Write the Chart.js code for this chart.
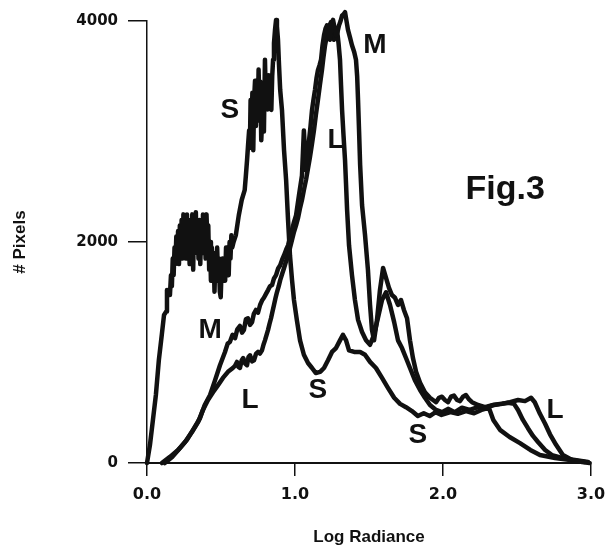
<!DOCTYPE html>
<html><head><meta charset="utf-8">
<script src="https://cdn.jsdelivr.net/npm/chart.js@4/dist/chart.umd.min.js"></script>
<style>html,body{margin:0;padding:0;background:#fff}</style>
</head><body>
<canvas id="c" width="613" height="551"></canvas>
<script>
// Log Radiance (x) , # Pixels (y)
const seriesS = [[0,0],[0.02,163],[0.04,390],[0.06,615],[0.08,930],[0.10,1160],[0.115,1340],[0.13,1370],[0.135,1565],[0.148,1520],
[0.155,1520],[0.162,1700],[0.168,1600],[0.174,1850],[0.18,1700],[0.186,1950],[0.192,1800],[0.198,2050],[0.204,1850],[0.21,2100],
[0.216,1800],[0.222,2150],[0.228,1900],[0.234,2200],[0.24,1850],[0.246,2250],[0.252,1950],[0.258,2200],[0.264,1850],[0.27,2250],
[0.276,1900],[0.282,2200],[0.288,1800],[0.294,2150],[0.30,1850],[0.306,2250],[0.312,1750],[0.318,2200],[0.324,1900],[0.33,2270],
[0.336,1950],[0.342,2150],[0.348,1850],[0.354,2200],[0.36,1800],[0.366,2100],[0.372,1900],[0.378,2250],[0.384,1950],[0.39,2200],
[0.396,1850],[0.402,2250],[0.408,2000],[0.414,2150],[0.42,1750],[0.426,2000],[0.432,1650],[0.438,1950],[0.444,1700],[0.45,1900],
[0.456,1550],[0.462,1850],[0.468,1650],[0.474,1950],[0.48,1700],[0.486,1850],[0.492,1550],[0.498,1500],[0.504,1750],[0.51,1850],
[0.516,1650],[0.522,1800],[0.528,1650],[0.534,1950],[0.54,1800],[0.546,1950],[0.552,1700],[0.558,2000],[0.564,1850],[0.57,2060],
[0.576,1950],[0.585,2000],[0.60,2060],[0.62,2240],[0.64,2380],[0.66,2470],[0.668,2600],[0.676,2740],[0.684,2900],[0.69,3010],
[0.695,2850],[0.70,3285],[0.706,3000],[0.712,3350],[0.718,2830],[0.724,3300],[0.73,3460],[0.736,3050],[0.742,3400],[0.748,3100],
[0.754,3560],[0.76,3200],[0.766,3450],[0.772,2920],[0.778,3100],[0.784,3285],[0.79,3000],[0.797,3650],[0.803,3300],[0.81,3450],
[0.816,3200],[0.822,3510],[0.828,3300],[0.834,3400],[0.84,3195],[0.846,3500],[0.852,3650],[0.858,3800],[0.865,3920],[0.872,4010],
[0.878,3950],[0.885,3830],[0.892,3600],[0.90,3375],[0.912,3195],[0.926,2830],[0.94,2560],[0.953,2200],[0.966,1880],[0.98,1655],
[0.993,1475],[1.013,1290],[1.034,1110],[1.06,980],[1.088,905],[1.115,860],[1.14,815],[1.17,825],[1.196,860],[1.223,930],
[1.25,1005],[1.277,1040],[1.304,1110],[1.324,1160],[1.345,1110],[1.365,1020],[1.40,1005],[1.44,1005],[1.473,980],[1.507,915],
[1.547,860],[1.588,770],[1.628,680],[1.67,590],[1.71,535],[1.75,505],[1.79,470],[1.83,425],[1.87,450],[1.91,425],
[1.95,460],[1.99,435],[2.05,460],[2.10,445],[2.155,470],[2.21,450],[2.26,480],[2.31,500],[2.34,390],[2.385,300],
[2.45,235],[2.52,180],[2.59,118],[2.655,72],[2.757,45],[2.86,27],[2.96,9]];

const seriesM = [[0.12,0],[0.17,55],[0.223,135],[0.27,210],[0.318,315],[0.358,405],[0.39,525],[0.426,615],[0.46,750],[0.493,885],
[0.527,1005],[0.545,1080],[0.56,1095],[0.578,1160],[0.595,1130],[0.61,1210],[0.628,1240],[0.642,1180],[0.655,1205],[0.668,1300],
[0.682,1310],[0.696,1250],[0.71,1275],[0.722,1350],[0.736,1385],[0.75,1360],[0.764,1430],[0.777,1470],[0.79,1495],[0.804,1530],
[0.818,1565],[0.831,1600],[0.845,1610],[0.858,1670],[0.872,1700],[0.886,1760],[0.90,1790],[0.913,1840],[0.926,1880],[0.94,1930],
[0.953,1970],[0.966,2040],[0.98,2110],[0.993,2180],[1.007,2240],[1.027,2425],[1.047,2600],[1.06,3010],[1.074,2650],[1.085,2800],
[1.095,2920],[1.105,3050],[1.115,3195],[1.125,3290],[1.135,3375],[1.145,3480],[1.155,3555],[1.166,3600],[1.176,3650],[1.186,3780],
[1.196,3870],[1.206,3930],[1.216,3960],[1.226,3880],[1.236,3830],[1.247,3950],[1.257,4010],[1.267,3940],[1.277,3870],[1.287,3900],
[1.297,3960],[1.308,4000],[1.318,4050],[1.328,4060],[1.338,4080],[1.348,4000],[1.358,3920],[1.372,3850],[1.385,3780],[1.40,3720],
[1.412,3650],[1.42,3500],[1.426,3285],[1.433,3000],[1.44,2700],[1.453,2335],[1.473,2065],[1.493,1745],[1.507,1430],[1.52,1205],
[1.534,1110],[1.554,1295],[1.574,1565],[1.595,1765],[1.615,1675],[1.635,1585],[1.655,1520],[1.676,1495],[1.696,1430],[1.716,1475],
[1.736,1385],[1.757,1310],[1.777,1110],[1.797,950],[1.818,825],[1.845,725],[1.878,640],[1.912,590],[1.953,550],[1.973,590],
[1.993,600],[2.013,570],[2.034,550],[2.054,600],[2.074,610],[2.095,570],[2.115,560],[2.135,600],[2.155,615],[2.176,575],
[2.196,550],[2.236,525],[2.284,505],[2.338,525],[2.385,535],[2.44,545],[2.48,535],[2.507,480],[2.54,390],[2.574,315],
[2.608,245],[2.642,190],[2.69,118],[2.736,72],[2.804,45],[2.89,27],[2.98,9]];

const seriesL = [[0.10,0],[0.155,55],[0.21,118],[0.257,190],[0.304,280],[0.345,370],[0.378,480],[0.412,570],[0.446,640],[0.48,705],
[0.513,770],[0.547,825],[0.58,860],[0.595,880],[0.608,915],[0.618,870],[0.628,860],[0.64,930],[0.65,950],[0.663,900],
[0.676,885],[0.686,960],[0.696,975],[0.71,920],[0.723,930],[0.737,990],[0.75,1005],[0.763,990],[0.777,1020],[0.787,1070],
[0.797,1110],[0.808,1160],[0.818,1205],[0.828,1260],[0.838,1310],[0.848,1370],[0.858,1430],[0.868,1490],[0.878,1545],[0.89,1600],
[0.90,1655],[0.913,1710],[0.926,1765],[0.936,1810],[0.946,1855],[0.956,1900],[0.966,1945],[0.98,2020],[0.993,2090],[1.007,2150],
[1.02,2215],[1.033,2300],[1.047,2380],[1.06,2470],[1.074,2560],[1.087,2660],[1.10,2760],[1.114,2880],[1.128,3010],[1.141,3150],
[1.155,3285],[1.168,3420],[1.182,3555],[1.192,3670],[1.203,3780],[1.213,3850],[1.223,3920],[1.233,3960],[1.243,3990],[1.254,3900],
[1.264,3830],[1.274,3880],[1.284,3920],[1.294,3800],[1.304,3650],[1.311,3420],[1.318,3195],[1.328,2960],[1.338,2740],[1.345,2520],
[1.352,2290],[1.365,1970],[1.385,1700],[1.405,1475],[1.426,1295],[1.453,1185],[1.48,1110],[1.507,1070],[1.534,1160],[1.56,1310],
[1.588,1475],[1.615,1545],[1.642,1430],[1.67,1275],[1.696,1110],[1.723,1040],[1.75,950],[1.777,860],[1.81,750],[1.845,660],
[1.878,590],[1.912,525],[1.953,480],[1.993,460],[2.034,490],[2.08,460],[2.128,500],[2.18,480],[2.236,505],[2.29,500],
[2.345,525],[2.40,535],[2.453,550],[2.507,570],[2.554,560],[2.595,590],[2.62,550],[2.655,445],[2.69,355],[2.723,260],
[2.764,165],[2.81,72],[2.872,27],[2.94,9],[2.99,0]];

const xTicks = [0, 1, 2, 3];
const yTicks = [0, 2000, 4000];

const curveLabels = [
  {t:'S', x:0.56, y:3195}, {t:'M', x:1.54, y:3780}, {t:'L', x:1.277, y:2920},
  {t:'M', x:0.426, y:1205}, {t:'L', x:0.696, y:570}, {t:'S', x:1.155, y:660},
  {t:'S', x:1.83, y:253}, {t:'L', x:2.757, y:480}
];
const figLabel = {t:'Fig.3', x:2.42, y:2470};

const toPts = a => a.map(p => ({x:p[0], y:p[1]}));

const labelPlugin = {
  id: 'curveLabels',
  afterDatasetsDraw(chart) {
    const {ctx, scales:{x, y}} = chart;
    ctx.save();
    ctx.fillStyle = '#111';
    ctx.textAlign = 'center';
    ctx.textBaseline = 'middle';
    ctx.font = 'bold 28px "Liberation Sans", Arial, sans-serif';
    curveLabels.forEach(l => ctx.fillText(l.t, x.getPixelForValue(l.x), y.getPixelForValue(l.y)));
    ctx.font = 'bold 34px "Liberation Sans", Arial, sans-serif';
    ctx.fillText(figLabel.t, x.getPixelForValue(figLabel.x), y.getPixelForValue(figLabel.y));
    ctx.restore();
  }
};

const lineDs = (label, arr) => ({
  label, data: toPts(arr), borderColor:'#111', borderWidth:4.5, pointRadius:0,
  tension:0, fill:false, clip:false, borderJoinStyle:'round', borderCapStyle:'round'
});

new Chart(document.getElementById('c'), {
  type: 'line',
  data: { datasets: [lineDs('S', seriesS), lineDs('M', seriesM), lineDs('L', seriesL)] },
  plugins: [labelPlugin],
  options: {
    responsive:false, animation:false, devicePixelRatio:1,
    layout: { padding: {left:0, right:22, top:21, bottom:0} },
    plugins: { legend:{display:false}, tooltip:{enabled:false} },
    scales: {
      x: {
        type:'linear', min:0, max:3,
        afterBuildTicks: s => { s.ticks = xTicks.map(v => ({value:v})); },
        afterFit: s => { s.height = 88; s.paddingLeft = 0; s.paddingRight = 0; },
        grid: { drawOnChartArea:false, drawTicks:true, tickLength:13, color:'#111', lineWidth:1.5 },
        border: { display:true, color:'#111', width:2 },
        ticks: { color:'#111', padding:9, maxRotation:0, font:{family:'"DejaVu Sans", sans-serif', size:16, weight:'bold'},
                 callback: v => Number(v).toFixed(1) },
        title: { display:true, text:'Log Radiance', color:'#111', padding:{top:0, bottom:3},
                 font:{family:'"Liberation Sans", Arial, sans-serif', size:17, weight:'bold'} }
      },
      y: {
        type:'linear', min:0, max:4000,
        afterBuildTicks: s => { s.ticks = yTicks.map(v => ({value:v})); },
        afterFit: s => { s.width = 147; s.paddingTop = 0; s.paddingBottom = 0; },
        grid: { drawOnChartArea:false, drawTicks:true, tickLength:19, color:'#111', lineWidth:1.5 },
        border: { display:true, color:'#111', width:1.5 },
        ticks: { color:'#111', padding:10, font:{family:'"DejaVu Sans", sans-serif', size:15, weight:'bold'},
                 callback: v => String(v) },
        title: { display:true, text:'# Pixels', color:'#111', padding:{top:10, bottom:0},
                 font:{family:'"Liberation Sans", Arial, sans-serif', size:17, weight:'bold'} }
      }
    }
  }
});
</script>
</body></html>
